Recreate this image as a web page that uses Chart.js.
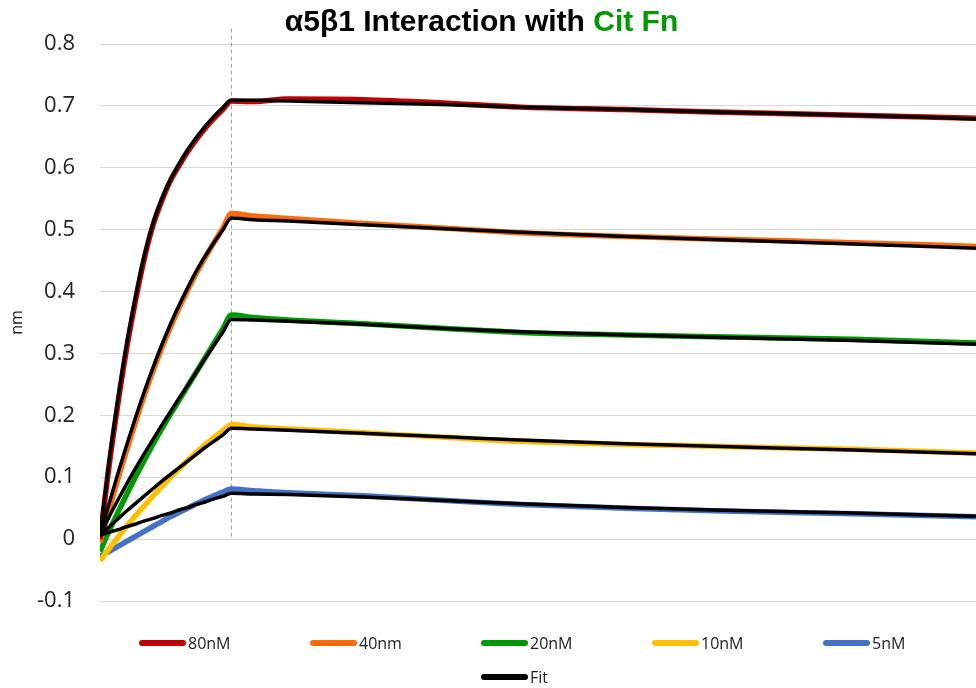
<!DOCTYPE html>
<html>
<head>
<meta charset="utf-8">
<script src="https://cdn.jsdelivr.net/npm/chart.js@4.4.1/dist/chart.umd.min.js"></script>
<style>
  html, body { margin: 0; padding: 0; background: #ffffff; }
  #wrap { position: relative; width: 976px; height: 688px; overflow: hidden; }
  #title { position: absolute; left: 0; top: 4px; width: 963px; text-align: center;
           font: bold 30px "Liberation Sans", Arial, sans-serif; line-height: 34px; color: #000; white-space: nowrap; }
  #title .g { color: #009A00; }
  .lg { position: absolute; height: 20px; display: flex; align-items: center;
        font: 16px "Open Sans", sans-serif; color: #222; white-space: nowrap; }
  .lg .sw { width: 47px; height: 6px; border-radius: 3px; margin-right: 2px; }
</style>
</head>
<body>
<div id="wrap">
  <canvas id="c" width="976" height="688"></canvas>
  <div id="title">α5β1 Interaction with <span class="g">Cit Fn</span></div>
  <div id="legend"></div>
</div>
<script>
// ---- data (time in s, response in nm) ----
const TIME = [0,10,20,30,40,50,60,70,80,90,100,110,120,130,140,150,175,215,300,400,480,600,700,860,1000];
const ASSOC_END = 150;

const SERIES_LABELS = ['80nM', '40nm', '20nM', '10nM', '5nM'];
const SERIES_COLORS = ['#C00000', '#FF6A0A', '#009A00', '#FFC000', '#4472C4'];

const D80 = [0.000,0.115,0.215,0.305,0.382,0.450,0.505,0.545,0.578,0.603,0.626,0.646,0.664,0.680,0.694,0.708,0.707,0.711,0.710,0.704,0.698,0.694,0.690,0.685,0.680];
const D40 = [-0.005,0.045,0.095,0.142,0.187,0.230,0.270,0.307,0.341,0.373,0.402,0.430,0.455,0.479,0.502,0.526,0.522,0.518,0.510,0.502,0.495,0.489,0.485,0.479,0.473];
const D20 = [-0.020,0.012,0.042,0.071,0.099,0.126,0.152,0.177,0.201,0.224,0.247,0.270,0.293,0.316,0.339,0.362,0.358,0.354,0.348,0.340,0.334,0.330,0.327,0.323,0.317];
const D10 = [-0.035,-0.016,0.002,0.020,0.037,0.053,0.069,0.084,0.099,0.113,0.127,0.140,0.153,0.164,0.175,0.185,0.181,0.178,0.172,0.164,0.158,0.153,0.150,0.145,0.139];
const D5  = [-0.028,-0.020,-0.012,-0.004,0.004,0.012,0.020,0.028,0.036,0.043,0.050,0.057,0.064,0.070,0.076,0.081,0.078,0.075,0.070,0.062,0.056,0.050,0.046,0.041,0.036];

const F80 = [0.006,0.122,0.222,0.312,0.388,0.455,0.508,0.548,0.580,0.606,0.629,0.649,0.667,0.683,0.697,0.709,0.709,0.708,0.705,0.702,0.698,0.694,0.690,0.685,0.679];
const F40 = [0.006,0.056,0.104,0.150,0.194,0.236,0.275,0.312,0.346,0.377,0.406,0.433,0.457,0.479,0.499,0.519,0.516,0.514,0.508,0.501,0.496,0.489,0.484,0.477,0.470];
const F20 = [0.006,0.035,0.062,0.088,0.113,0.137,0.160,0.183,0.205,0.227,0.248,0.270,0.292,0.313,0.334,0.355,0.354,0.352,0.347,0.340,0.335,0.330,0.326,0.321,0.315];
const F10 = [0.006,0.019,0.032,0.045,0.057,0.069,0.081,0.093,0.104,0.115,0.126,0.137,0.148,0.158,0.168,0.179,0.178,0.176,0.171,0.165,0.160,0.154,0.150,0.144,0.138];
const F5  = [0.006,0.011,0.015,0.020,0.024,0.029,0.033,0.038,0.042,0.047,0.051,0.056,0.060,0.065,0.069,0.074,0.073,0.072,0.068,0.062,0.057,0.051,0.047,0.042,0.037];

const FIT_LABEL = 'Fit';
const Y_TICKS = [-0.1, 0, 0.1, 0.2, 0.3, 0.4, 0.5, 0.6, 0.7, 0.8];
const Y_TICK_LABELS = ['-0.1', '0', '0.1', '0.2', '0.3', '0.4', '0.5', '0.6', '0.7', '0.8'];
const MARKER_Y = [0.004, 0.825];

// ---- build datasets ----
const toXY = arr => arr.map((v, i) => ({ x: TIME[i], y: v }));
const dataSets = [D80, D40, D20, D10, D5];
const fitSets = [F80, F40, F20, F10, F5];

const datasets = [];
fitSets.forEach((f, i) => datasets.push({
  label: i === 0 ? FIT_LABEL : FIT_LABEL + i,
  data: toXY(f), borderColor: '#000000', borderWidth: 3.5,
  pointRadius: 0, cubicInterpolationMode: 'monotone', order: 0
}));
dataSets.forEach((d, i) => datasets.push({
  label: SERIES_LABELS[i],
  data: toXY(d), borderColor: SERIES_COLORS[i], borderWidth: 5.5,
  pointRadius: 0, cubicInterpolationMode: 'monotone', order: 1
}));
datasets.push({
  label: 'marker', data: MARKER_Y.map(y => ({ x: ASSOC_END, y })),
  borderColor: '#9a9a9a', borderWidth: 1, borderDash: [4, 3],
  pointRadius: 0, clip: false, order: 2
});

new Chart(document.getElementById('c'), {
  type: 'line',
  data: { datasets },
  options: {
    responsive: false, animation: false,
    layout: { padding: { top: 44, bottom: 87, left: 0, right: 0 } },
    plugins: { legend: { display: false }, title: { display: false }, tooltip: { enabled: false } },
    scales: {
      x: { type: 'linear', min: 0, max: 1000, display: false },
      y: {
        type: 'linear', min: -0.1, max: 0.8,
        afterBuildTicks: s => { s.ticks = Y_TICKS.map(v => ({ value: v })); },
        afterFit: s => { s.width = 100; },
        border: { display: false },
        grid: { color: '#d9d9d9', lineWidth: 1, drawTicks: false },
        ticks: {
          padding: 25, color: '#222',
          font: { family: 'Open Sans', size: 22 },
          callback: (v, i) => Y_TICK_LABELS[Y_TICKS.indexOf(Math.round(v * 10) / 10)] ?? ''
        },
        title: { display: true, text: 'nm', color: '#222',
                 font: { family: 'Open Sans', size: 16 }, padding: { top: 8, bottom: 0 } }
      }
    }
  }
});

// ---- legend (HTML) ----
const legend = document.getElementById('legend');
const LEG_X = [139, 310, 481, 652, 823];
function addItem(x, y, color, text) {
  const el = document.createElement('div');
  el.className = 'lg';
  el.style.left = x + 'px'; el.style.top = (y - 10) + 'px';
  el.innerHTML = '<div class="sw" style="background:' + color + '"></div><span>' + text + '</span>';
  legend.appendChild(el);
}
SERIES_LABELS.forEach((l, i) => addItem(LEG_X[i], 643, SERIES_COLORS[i], l));
addItem(LEG_X[2], 677, '#000000', FIT_LABEL);
</script>
</body>
</html>
